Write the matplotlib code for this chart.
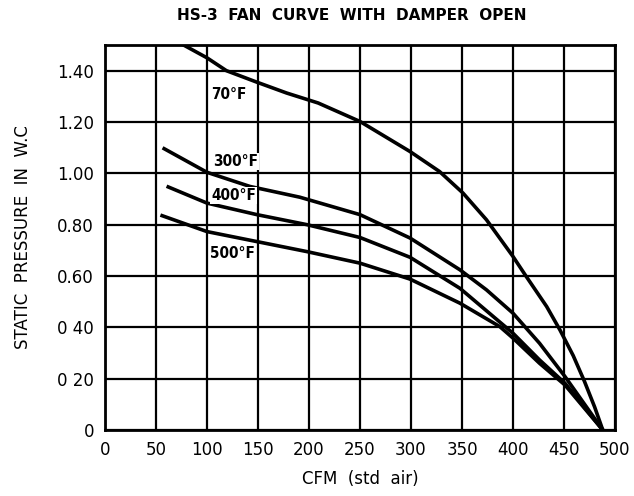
import matplotlib
matplotlib.use("Agg")
import matplotlib.pyplot as plt

# Data (CFM vs static pressure)
cfm_70 = [77, 100, 119, 149, 178, 209, 250, 299, 328, 351, 374, 400, 413, 433, 446, 459, 470, 480, 488]
sp_70 = [1.50, 1.45, 1.40, 1.355, 1.313, 1.274, 1.202, 1.085, 1.007, 0.923, 0.819, 0.676, 0.598, 0.481, 0.39, 0.29, 0.19, 0.09, 0.0]

cfm_300 = [58, 100, 142, 191, 250, 299, 348, 374, 400, 426, 451, 488]
sp_300 = [1.096, 1.004, 0.949, 0.907, 0.839, 0.748, 0.624, 0.546, 0.455, 0.338, 0.208, 0.0]

cfm_400 = [62, 100, 149, 198, 250, 299, 348, 400, 426, 451, 488]
sp_400 = [0.947, 0.884, 0.839, 0.80, 0.75, 0.673, 0.552, 0.377, 0.273, 0.182, 0.0]

cfm_500 = [56, 100, 149, 198, 250, 299, 348, 387, 400, 426, 451, 488]
sp_500 = [0.835, 0.773, 0.734, 0.695, 0.65, 0.588, 0.494, 0.403, 0.358, 0.26, 0.175, 0.0]

curve_labels = ["70°F", "300°F", "400°F", "500°F"]
label_pos = [(104, 1.307), (106, 1.047), (104, 0.914), (103, 0.689)]

x_ticks = [0, 50, 100, 150, 200, 250, 300, 350, 400, 450, 500]
x_ticklabels = ["0", "50", "100", "150", "200", "250", "300", "350", "400", "450", "500"]
y_ticks = [0, 0.2, 0.4, 0.6, 0.8, 1.0, 1.2, 1.4]
y_ticklabels = ["0", "0 20", "0 40", "0.60", "0.80", "1.00", "1.20", "1.40"]

fig = plt.figure(figsize=(6.34, 4.96), dpi=100)
ax = fig.add_axes([105/634, 1-430/496, 510/634, 385/496])

for xs, ys in [(cfm_70, sp_70), (cfm_300, sp_300), (cfm_400, sp_400), (cfm_500, sp_500)]:
    ax.plot(xs, ys, color="black", lw=2.6, solid_joinstyle="round", zorder=3)

for lab, (lx, ly) in zip(curve_labels, label_pos):
    ax.text(lx, ly, lab, ha="left", va="center", fontsize=11, fontweight="bold",
            fontstretch="condensed", color="black", zorder=4,
            bbox=dict(facecolor="white", edgecolor="none", pad=0.5))

ax.set_xlim(0, 500)
ax.set_ylim(0, 1.5)
ax.set_xticks(x_ticks)
ax.set_xticklabels(x_ticklabels, fontsize=12)
ax.set_yticks(y_ticks)
ax.set_yticklabels(y_ticklabels, fontsize=12)
ax.tick_params(length=0, pad=8)
ax.grid(True, color="black", lw=1.6)
ax.set_axisbelow(True)
for s in ax.spines.values():
    s.set_linewidth(2)
    s.set_color("black")

ax.set_xlabel("CFM  (std  air)", fontsize=12, labelpad=8)
ax.set_ylabel("STATIC  PRESSURE  IN  W.C", fontsize=12, labelpad=18)
fig.text(0.555, 0.968, "HS-3  FAN  CURVE  WITH  DAMPER  OPEN", ha="center", va="center",
         fontsize=11, fontweight="bold")

fig.savefig("out.png", dpi=100)
